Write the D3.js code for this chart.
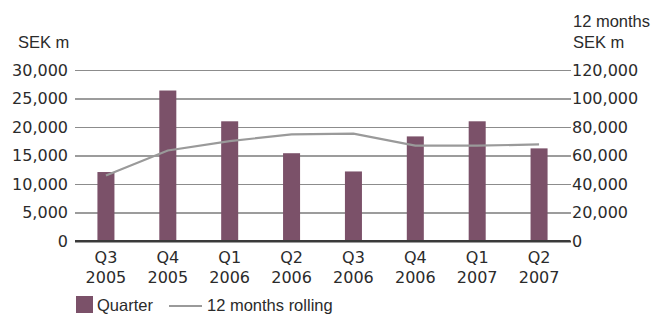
<!DOCTYPE html>
<html>
<head>
<meta charset="utf-8">
<script src="https://cdn.jsdelivr.net/npm/d3@7"></script>
<style>
  body { margin: 0; background: #fff; }
  text { fill: #2b2b2b; }
</style>
</head>
<body>
<div id="chart"></div>
<script>
// data
const quarters = ["Q3", "Q4", "Q1", "Q2", "Q3", "Q4", "Q1", "Q2"];
const years = ["2005", "2005", "2006", "2006", "2006", "2006", "2007", "2007"];
const quarterValues = [12100, 26400, 21000, 15400, 12200, 18350, 21000, 16250];
const rollingValues = [46000, 63500, 70100, 74800, 75300, 66900, 66900, 67800];
const leftTicks = [0, 5000, 10000, 15000, 20000, 25000, 30000];
const rightTicks = [0, 20000, 40000, 60000, 80000, 100000, 120000];

const width = 652, height = 315;
const margin = {left: 75, right: 82, top: 70, bottom: 74};
const numFont = "DejaVu Sans";
const txtFont = "Liberation Sans";

const svg = d3.select("#chart")
  .append("svg")
  .attr("width", width)
  .attr("height", height);

const idx = d3.range(quarters.length);

// x scale, bars are narrow in wide bands
const xScale = d3.scaleBand()
  .domain(idx)
  .range([margin.left, width - margin.right])
  .paddingInner(0.725)
  .paddingOuter(0.3625);

const yLeft = d3.scaleLinear()
  .domain([0, 30000])
  .range([height - margin.bottom, margin.top]);

const yRight = d3.scaleLinear()
  .domain([0, 120000])
  .range([height - margin.bottom, margin.top]);

const plotW = width - margin.left - margin.right;

// left axis with the gridlines (they alternate dark / grey in the original)
const gLeft = svg.append("g")
  .attr("transform", `translate(${margin.left},0)`)
  .call(d3.axisLeft(yLeft).tickValues(leftTicks).tickSize(-plotW - 1).tickPadding(7).tickFormat(d3.format(",")));
gLeft.select(".domain").remove();
gLeft.selectAll(".tick line")
  .attr("stroke", (d, i) => (i % 2 === 1 || d === 0 ? "#3a3a3a" : "#8c8c8c"))
  .attr("stroke-width", d => (d === 0 ? 2 : 1.2));
gLeft.selectAll("text")
  .attr("font-family", numFont)
  .attr("font-size", "16px")
  .attr("fill", "#2b2b2b");

// right axis, labels only
const gRight = svg.append("g")
  .attr("transform", `translate(${width - margin.right + 1},0)`)
  .call(d3.axisRight(yRight).tickValues(rightTicks).tickSize(0).tickPadding(1).tickFormat(d3.format(",")));
gRight.select(".domain").remove();
gRight.selectAll("text")
  .attr("font-family", numFont)
  .attr("font-size", "16px")
  .attr("fill", "#2b2b2b");

// bars
svg.selectAll(".bar")
  .data(quarterValues)
  .enter()
  .append("rect")
    .attr("class", "bar")
    .attr("x", (d, i) => xScale(i))
    .attr("y", d => yLeft(d))
    .attr("width", xScale.bandwidth())
    .attr("height", d => yLeft(0) - yLeft(d))
    .attr("fill", "#7b5169");

// redraw the baseline over the bars
svg.append("line")
  .attr("x1", margin.left)
  .attr("x2", width - margin.right)
  .attr("y1", yLeft(0))
  .attr("y2", yLeft(0))
  .attr("stroke", "#3a3a3a")
  .attr("stroke-width", 2);

// 12 months rolling line
const line = d3.line()
  .x((d, i) => xScale(i) + xScale.bandwidth() / 2)
  .y(d => yRight(d));

svg.append("path")
  .datum(rollingValues)
  .attr("d", line)
  .attr("fill", "none")
  .attr("stroke", "#9a9a9a")
  .attr("stroke-width", 2.2);

// x labels, two lines
const xLab = svg.append("g");
xLab.selectAll(".q")
  .data(quarters)
  .enter()
  .append("text")
    .attr("x", (d, i) => xScale(i) + xScale.bandwidth() / 2)
    .attr("y", 263)
    .attr("text-anchor", "middle")
    .attr("font-family", numFont)
    .attr("font-size", "16px")
    .text(d => d);
xLab.selectAll(".yr")
  .data(years)
  .enter()
  .append("text")
    .attr("x", (d, i) => xScale(i) + xScale.bandwidth() / 2)
    .attr("y", 283)
    .attr("text-anchor", "middle")
    .attr("font-family", numFont)
    .attr("font-size", "16px")
    .text(d => d);

// axis titles
svg.append("text")
  .attr("x", 18).attr("y", 48)
  .attr("font-family", txtFont).attr("font-size", "16.5px")
  .text("SEK m");
svg.append("text")
  .attr("x", 573).attr("y", 27)
  .attr("font-family", txtFont).attr("font-size", "16.5px")
  .text("12 months");
svg.append("text")
  .attr("x", 573).attr("y", 48)
  .attr("font-family", txtFont).attr("font-size", "16.5px")
  .text("SEK m");

// legend
const legend = svg.append("g");
legend.append("rect")
  .attr("x", 76).attr("y", 296)
  .attr("width", 17).attr("height", 17)
  .attr("fill", "#7b5169");
legend.append("text")
  .attr("x", 97).attr("y", 311)
  .attr("font-family", txtFont).attr("font-size", "16.5px")
  .text("Quarter");
legend.append("line")
  .attr("x1", 169).attr("x2", 202)
  .attr("y1", 306).attr("y2", 306)
  .attr("stroke", "#9a9a9a")
  .attr("stroke-width", 2);
legend.append("text")
  .attr("x", 207).attr("y", 311)
  .attr("font-family", txtFont).attr("font-size", "16.5px")
  .text("12 months rolling");
</script>
</body>
</html>
